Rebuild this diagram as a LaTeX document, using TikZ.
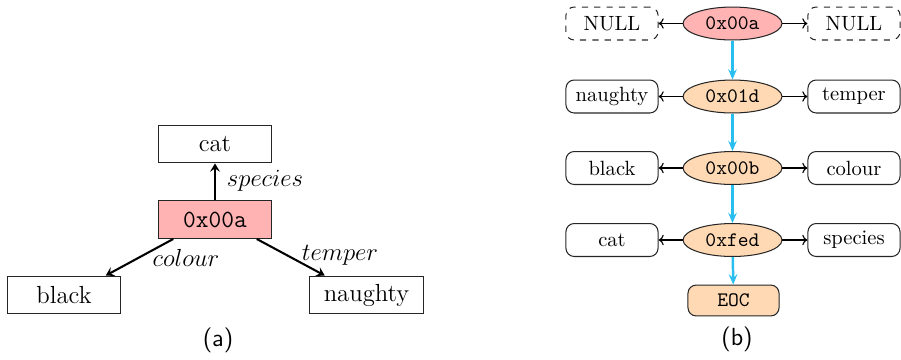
\documentclass[tikz,border=0pt]{standalone}
\usetikzlibrary{shapes.geometric,arrows.meta}
\definecolor{pinkfill}{RGB}{255,179,179}
\definecolor{peach}{RGB}{255,217,179}
\definecolor{flowblue}{RGB}{40,190,240}
\begin{document}
\begin{tikzpicture}[x=0.4854pt,y=-0.4854pt,
  abox/.style={draw=black!85,line width=0.5pt,minimum width=55.3pt,minimum height=18.4pt,inner sep=0pt,font=\large},
  alabel/.style={font=\large},
  aarrow/.style={-{Stealth[length=4pt,width=4.8pt,inset=1.6pt]},line width=1pt},
  bbox/.style={draw=black!85,line width=0.5pt,rounded corners=4pt,minimum width=44.7pt,minimum height=16pt,inner sep=0pt},
  ell/.style={ellipse,draw=black!85,line width=0.5pt,minimum width=48pt,minimum height=16pt,inner sep=0pt,fill=peach},
  barrow/.style={-{To[length=2.5pt,width=5pt]},line width=0.55pt},
  flow/.style={-{Stealth[length=5pt,width=4.2pt,inset=1.8pt]},line width=1.2pt,draw=flowblue},
  caption/.style={font=\large\sffamily}]
\useasboundingbox (0,0) rectangle (901,359);
% (a)
\node[abox] (cat) at (215,144) {cat};
\node[abox,fill=pinkfill] (root) at (215,219.5) {\texttt{0x00a}};
\node[abox] (black) at (64,295) {black};
\node[abox] (naughty) at (366.5,295) {naughty};
\draw[aarrow] (root) -- (cat);
\draw[aarrow] (root.-155) -- (black.25);
\draw[aarrow] (root.-25) -- (naughty.155);
\node[alabel] (lspecies) at (265,181) {$species$};
\node[alabel] (lcolour) at (186,258) {$colour$};
\node[alabel] (ltemper) at (340,255) {$temper$};
\node[caption] (capa) at (218,340) {(a)};
% (b)
\node[ell,fill=pinkfill] (e1) at (732.5,23.5) {\texttt{0x00a}};
\node[bbox,dashed] (l1) at (612,23.5) {NULL};
\node[bbox,dashed] (r1) at (854,23.5) {NULL};
\node[ell] (e2) at (732.5,96.5) {\texttt{0x01d}};
\node[bbox] (l2) at (612,96.5) {naughty};
\node[bbox] (r2) at (854,96.5) {temper};
\node[ell] (e3) at (732.5,168) {\texttt{0x00b}};
\node[bbox] (l3) at (612,168) {black};
\node[bbox] (r3) at (854,168) {colour};
\node[ell] (e4) at (732.5,240) {\texttt{0xfed}};
\node[bbox] (l4) at (612,240) {cat};
\node[bbox] (r4) at (854,240) {species};
\node[bbox,fill=peach,minimum width=44.2pt,minimum height=15pt] (eoc) at (733.5,300.5) {\texttt{EOC}};
\foreach \i in {1,2,3,4}{
  \draw[barrow] (e\i) -- (l\i);
  \draw[barrow] (e\i) -- (r\i);
}
\draw[flow] (e1) -- (e2);
\draw[flow] (e2) -- (e3);
\draw[flow] (e3) -- (e4);
\draw[flow] (e4) -- (eoc);
\node[caption] (capb) at (737,339) {(b)};
\end{tikzpicture}
\end{document}
